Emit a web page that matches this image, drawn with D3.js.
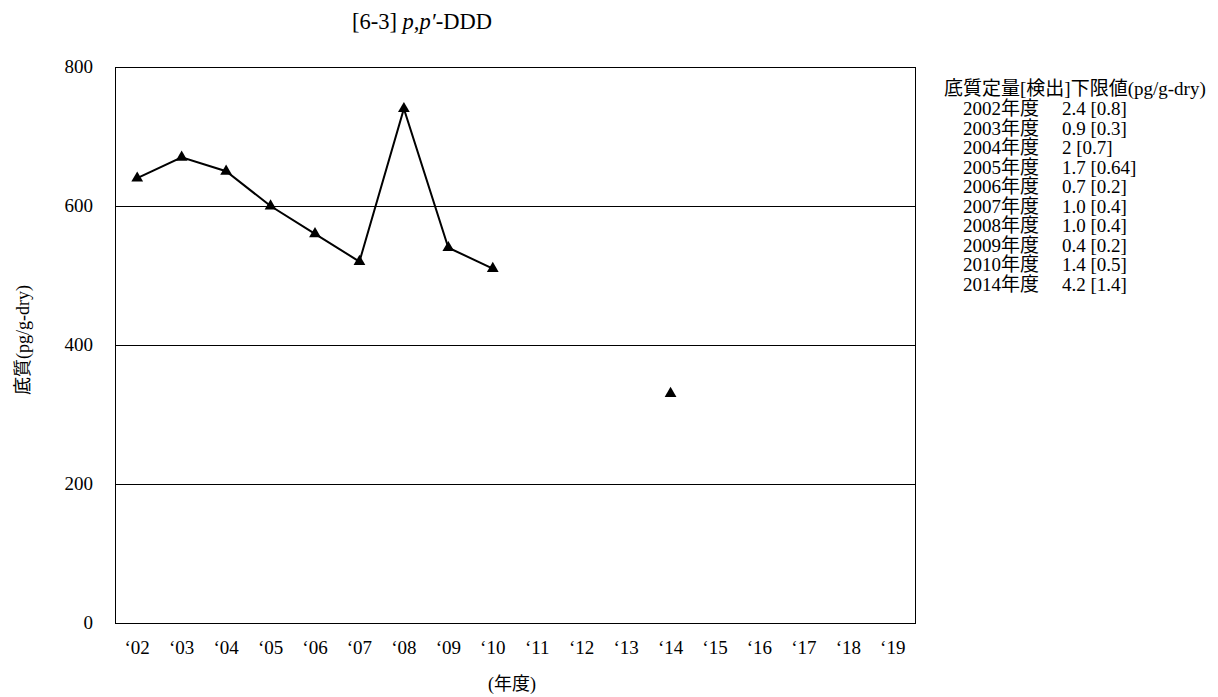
<!DOCTYPE html>
<html><head><meta charset="utf-8">
<script src="https://cdn.jsdelivr.net/npm/d3@7"></script>
<style>body{margin:0;background:#fff}</style>
</head><body>
<svg id="c" width="1218" height="697"></svg>
<script>
const categories = ["2002","2003","2004","2005","2006","2007","2008","2009","2010","2011","2012","2013","2014","2015","2016","2017","2018","2019"];
const tickLabels = ["‘02","‘03","‘04","‘05","‘06","‘07","‘08","‘09","‘10","‘11","‘12","‘13","‘14","‘15","‘16","‘17","‘18","‘19"];
const years = ["2002","2003","2004","2005","2006","2007","2008","2009","2010","2014"];
const values = [640,670,650,600,560,520,740,540,510,330];
const yTicks = [0,200,400,600,800];
const legendYears = ["2002年度","2003年度","2004年度","2005年度","2006年度","2007年度","2008年度","2009年度","2010年度","2014年度"];
const legendLimits = ["2.4 [0.8]","0.9 [0.3]","2 [0.7]","1.7 [0.64]","0.7 [0.2]","1.0 [0.4]","1.0 [0.4]","0.4 [0.2]","1.4 [0.5]","4.2 [1.4]"];

const font = "'Liberation Serif','Times New Roman','Noto Sans CJK JP',serif";
const svg = d3.select("#c");
const L=115,R=915,T=67,B=623;
const x = d3.scaleBand().domain(categories).range([L,R]);
const y = d3.scaleLinear().domain([0,800]).range([B,T]);

// gridlines
svg.append("g").selectAll("line").data(yTicks.filter(d=>d>0&&d<800)).join("line")
  .attr("x1",L).attr("x2",R).attr("y1",d=>y(d)).attr("y2",d=>y(d))
  .attr("stroke","#000").attr("stroke-width",1).attr("shape-rendering","crispEdges");
svg.append("rect").attr("x",L).attr("y",T).attr("width",R-L).attr("height",B-T)
  .attr("fill","none").attr("stroke","#000").attr("stroke-width",1).attr("shape-rendering","crispEdges");

// y tick labels
svg.append("g").selectAll("text").data(yTicks).join("text")
  .attr("x",93).attr("y",d=>y(d)+6).attr("text-anchor","end")
  .attr("font-family",font).attr("font-size",19).text(d=>d);

// x tick labels
svg.append("g").selectAll("text").data(categories).join("text")
  .attr("x",d=>x(d)+x.bandwidth()/2).attr("y",654).attr("text-anchor","middle")
  .attr("font-family",font).attr("font-size",19).text((d,i)=>tickLabels[i]);

// line (continuous through 2010)
const pts = years.map((yr,i)=>({yr,v:values[i]}));
const lineData = pts.filter(p=>+p.yr<=2010);
svg.append("path").datum(lineData)
  .attr("d",d3.line().x(p=>x(p.yr)+x.bandwidth()/2).y(p=>y(p.v)))
  .attr("fill","none").attr("stroke","#000").attr("stroke-width",2);
svg.append("g").selectAll("path").data(pts).join("path")
  .attr("d",d3.symbol().type(d3.symbolTriangle).size(60))
  .attr("transform",p=>`translate(${x(p.yr)+x.bandwidth()/2},${y(p.v)})`)
  .attr("fill","#000");

// title
const t = svg.append("text").attr("x",352).attr("y",29).attr("font-family",font).attr("font-size",22.5);
t.append("tspan").text("[6-3] ");
t.append("tspan").attr("font-style","italic").text("p,p′");
t.append("tspan").text("-DDD");

// axis titles
svg.append("text").attr("transform","translate(29,340) rotate(-90)").attr("text-anchor","middle")
  .attr("font-family",font).attr("font-size",18).text("底質(pg/g-dry)");
svg.append("text").attr("x",512).attr("y",690).attr("text-anchor","middle")
  .attr("font-family",font).attr("font-size",18).text("(年度)");

// legend
svg.append("text").attr("x",944).attr("y",95).attr("font-family",font).attr("font-size",19).text("底質定量[検出]下限値(pg/g-dry)");
const lg = svg.append("g");
lg.selectAll("text.yr").data(legendYears).join("text").attr("class","yr")
  .attr("x",963).attr("y",(d,i)=>115+i*19.5).attr("font-family",font).attr("font-size",19).text(d=>d);
lg.selectAll("text.v").data(legendLimits).join("text").attr("class","v")
  .attr("x",1062).attr("y",(d,i)=>115+i*19.5).attr("font-family",font).attr("font-size",19).text(d=>d);
</script>
</body></html>
